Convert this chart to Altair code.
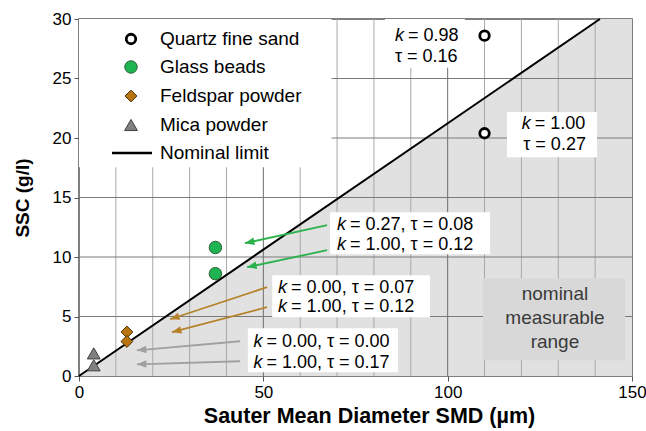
import math
import altair as alt
import pandas as pd

FONT = "Liberation Sans"
W, H = 553, 357
X_DOMAIN = [0, 150]
Y_DOMAIN = [0, 30]

# ---------------- data ----------------
series = ["Quartz fine sand", "Glass beads", "Feldspar powder", "Mica powder"]
quartz_smd = [110, 110]
quartz_ssc = [28.6, 20.4]
glass_smd = [37, 37]
glass_ssc = [10.8, 8.6]
feldspar_smd = [13, 13]
feldspar_ssc = [3.7, 2.9]
mica_smd = [4, 4]
mica_ssc = [1.9, 0.9]

limit_label = "Nominal limit"
limit_smd = [0, 141.3]
limit_ssc = [0, 30]

x_ticks = [0, 50, 100, 150]
y_ticks = [0, 5, 10, 15, 20, 25, 30]
x_grid_minor = [10, 20, 30, 40, 60, 70, 80, 90, 110, 120, 130, 140]
x_grid_major = [50, 100]
y_grid = [5, 10, 15, 20, 25]

# annotation boxes (data units): legend, k=0.98, k=1.00, glass, feldspar, mica
box_x1 = [0, 83.0, 116.1, 68.1, 52.4, 45.8]
box_x2 = [68.5, 104.7, 140.5, 111.5, 95.2, 86.5]
box_y1 = [17.55, 25.9, 18.39, 10.24, 4.94, 0.31]
box_y2 = [30, 30, 22.18, 13.77, 8.47, 4.01]

range_box_x = [109.6, 148.1]
range_box_y = [1.32, 8.22]
range_text = ["nominal", "measurable", "range"]
range_text_x = [129.1, 129.1, 129.1]
range_text_y = [6.87, 4.85, 2.83]

# text lines starting with italic k
k_x = [85.7, 120.1, 70.0, 70.0, 54.0, 54.0, 47.3, 47.3]
k_y = [28.57, 21.17, 12.67, 10.99, 7.43, 5.80, 2.86, 1.13]
k_rest = ["= 0.98", "= 1.00", "= 0.27, τ = 0.08", "= 1.00, τ = 0.12",
          "= 0.00, τ = 0.07", "= 1.00, τ = 0.12", "= 0.00, τ = 0.00", "= 1.00, τ = 0.17"]
tau_x = [85.7, 120.5]
tau_y = [26.83, 19.40]
tau_text = ["τ = 0.16", "τ = 0.27"]

# arrows
arrow_series = ["Glass beads", "Glass beads", "Feldspar powder", "Feldspar powder", "Mica powder", "Mica powder"]
arrow_x_from = [67.3, 67.3, 51.0, 51.0, 43.7, 43.7]
arrow_y_from = [12.67, 10.57, 7.46, 5.78, 2.92, 1.24]
arrow_x_to = [45.0, 45.6, 24.7, 25.2, 15.7, 15.7]
arrow_y_to = [11.16, 9.14, 4.77, 3.68, 2.16, 0.98]

# ---------------- styles ----------------
arrow_colors = {"Glass beads": "#2bb24c", "Feldspar powder": "#b5822a", "Mica powder": "#a0a0a0"}
SHADE = "#e1e1e1"
RANGE_BOX = "#d8d8d8"

xscale = alt.Scale(domain=X_DOMAIN, nice=False, zero=False)
yscale = alt.Scale(domain=Y_DOMAIN, nice=False, zero=False)
xaxis = alt.Axis(values=x_ticks, title="Sauter Mean Diameter SMD (µm)", grid=False, domain=False,
                 labelFont=FONT, labelFontSize=17, labelColor="#000", labelFlush=False,
                 labelOverlap=False, tickColor="#555", tickSize=5, labelPadding=3, format="d",
                 titleFont=FONT, titleFontSize=21.5, titleFontWeight="bold", titleColor="#000",
                 titlePadding=5, titleX=290, titleAlign="center", titleAnchor="start")
yaxis = alt.Axis(values=y_ticks, title="SSC (g/l)", grid=False, domain=False,
                 labelFont=FONT, labelFontSize=17, labelColor="#000", labelFlush=False,
                 labelOverlap=False, tickColor="#555", tickSize=5, labelPadding=3, format="d",
                 titleFont=FONT, titleFontSize=19, titleFontWeight="bold", titleColor="#000",
                 titlePadding=20)


def X(f="x"):
    return alt.X(f"{f}:Q", scale=xscale, axis=xaxis)


def Y(f="y"):
    return alt.Y(f"{f}:Q", scale=yscale, axis=yaxis)


# shaded region below the nominal limit
area_df = pd.DataFrame({"x": limit_smd + [X_DOMAIN[1]], "y": limit_ssc + [Y_DOMAIN[1]], "y2": [0, 0, 0]})
shade = alt.Chart(area_df).mark_area(color=SHADE, opacity=1).encode(x=X(), y=Y(), y2="y2:Q")

grid_minor = alt.Chart(pd.DataFrame({"x": x_grid_minor})).mark_rule(color="#a9a9a9", strokeWidth=1).encode(x=X())
grid_major = alt.Chart(pd.DataFrame({"x": x_grid_major})).mark_rule(color="#6e6e6e", strokeWidth=1).encode(x=X())
grid_y = alt.Chart(pd.DataFrame({"y": y_grid})).mark_rule(color="#7a7a7a", strokeWidth=1).encode(y=Y())

boxes_df = pd.DataFrame({"x": box_x1, "x2": box_x2, "y": box_y1, "y2": box_y2})
boxes = alt.Chart(boxes_df).mark_rect(color="white").encode(x=X(), x2="x2:Q", y=Y(), y2="y2:Q")

range_df = pd.DataFrame({"x": [range_box_x[0]], "x2": [range_box_x[1]], "y": [range_box_y[0]], "y2": [range_box_y[1]]})
range_box = alt.Chart(range_df).mark_rect(color=RANGE_BOX).encode(x=X(), x2="x2:Q", y=Y(), y2="y2:Q")
range_lbl = alt.Chart(pd.DataFrame({"x": range_text_x, "y": range_text_y, "t": range_text})).mark_text(
    font=FONT, fontSize=19, color="#3a3a3a", align="center", baseline="middle").encode(x=X(), y=Y(), text="t:N")

limit_df = pd.DataFrame({"x": limit_smd, "y": limit_ssc})
limit = alt.Chart(limit_df).mark_line(color="#000", strokeWidth=2).encode(x=X(), y=Y())

# arrows
sx = W / (X_DOMAIN[1] - X_DOMAIN[0])
sy = H / (Y_DOMAIN[1] - Y_DOMAIN[0])
angles = [math.degrees(math.atan2(-(y1 - y0) * sy, (x1 - x0) * sx)) % 360
          for x0, y0, x1, y1 in zip(arrow_x_from, arrow_y_from, arrow_x_to, arrow_y_to)]
arrow_df = pd.DataFrame({"x": arrow_x_from, "y": arrow_y_from, "x2": arrow_x_to, "y2": arrow_y_to,
                         "s": arrow_series, "angle": angles})
acolor = alt.Color("s:N", scale=alt.Scale(domain=list(arrow_colors.keys()), range=list(arrow_colors.values())),
                   legend=None)
arrow_lines = alt.Chart(arrow_df).mark_rule(strokeWidth=1.8).encode(x=X(), y=Y(), x2="x2:Q", y2="y2:Q", color=acolor)
arrow_heads = alt.Chart(arrow_df).mark_point(shape="M0,0L-2,-0.8L-2,0.8Z", filled=True, size=90, opacity=1).encode(
    x=X("x2"), y=Y("y2"), angle=alt.Angle("angle:Q", scale=None), color=acolor)

# marker styles
QUARTZ = dict(shape="circle", size=90, filled=False, stroke="#000", strokeWidth=2.8, fill="white", opacity=1)
GLASS = dict(shape="circle", size=155, filled=True, fill="#1fb452", stroke="#2d5e38", strokeWidth=1, opacity=1)
FELD = dict(shape="diamond", size=140, filled=True, fill="#b8740f", stroke="#4d3206", strokeWidth=1, opacity=1)
MICA = dict(shape="triangle-up", size=165, filled=True, fill="#808080", stroke="#404040", strokeWidth=1, opacity=1)

pts = [
    alt.Chart(pd.DataFrame({"x": quartz_smd, "y": quartz_ssc})).mark_point(**QUARTZ).encode(x=X(), y=Y()),
    alt.Chart(pd.DataFrame({"x": glass_smd, "y": glass_ssc})).mark_point(**GLASS).encode(x=X(), y=Y()),
    alt.Chart(pd.DataFrame({"x": feldspar_smd, "y": feldspar_ssc})).mark_point(**FELD).encode(x=X(), y=Y()),
    alt.Chart(pd.DataFrame({"x": mica_smd, "y": mica_ssc})).mark_point(**MICA).encode(x=X(), y=Y()),
]

# annotation text
k_df = pd.DataFrame({"x": k_x, "y": k_y, "rest": k_rest})
k_it = alt.Chart(k_df).mark_text(font=FONT, fontSize=18, fontStyle="italic", align="left", baseline="middle",
                                 color="#000").encode(x=X(), y=Y(), text=alt.value("k"))
k_rest_t = alt.Chart(k_df).mark_text(font=FONT, fontSize=18, align="left", baseline="middle", dx=13,
                                     color="#000").encode(x=X(), y=Y(), text="rest:N")
tau_t = alt.Chart(pd.DataFrame({"x": tau_x, "y": tau_y, "t": tau_text})).mark_text(
    font=FONT, fontSize=18, align="left", baseline="middle", color="#000").encode(x=X(), y=Y(), text="t:N")

# legend (manual, placed in pixels relative to the plot area)
leg_sym_x = 52
leg_text_x = 81
leg_rows = [20, 48, 77, 106, 134]
legend = [
    alt.Chart().mark_point(**QUARTZ).encode(x=alt.value(leg_sym_x), y=alt.value(leg_rows[0])),
    alt.Chart().mark_point(**GLASS).encode(x=alt.value(leg_sym_x), y=alt.value(leg_rows[1])),
    alt.Chart().mark_point(**FELD).encode(x=alt.value(leg_sym_x), y=alt.value(leg_rows[2])),
    alt.Chart().mark_point(**MICA).encode(x=alt.value(leg_sym_x), y=alt.value(leg_rows[3])),
    alt.Chart().mark_rule(color="#000", strokeWidth=2.5).encode(
        x=alt.value(33), x2=alt.value(73), y=alt.value(leg_rows[4])),
]
for lbl, ry in zip(series + [limit_label], leg_rows):
    legend.append(alt.Chart().mark_text(font=FONT, fontSize=19, align="left", baseline="middle", color="#000").encode(
        x=alt.value(leg_text_x), y=alt.value(ry), text=alt.value(lbl)))

chart = alt.layer(
    shade, grid_minor, grid_major, grid_y, range_box, boxes, range_lbl, limit,
    arrow_lines, arrow_heads, *pts, k_it, k_rest_t, tau_t, *legend
).properties(
    width=W, height=H, autosize="none",
    padding={"left": 79, "top": 19, "right": 14, "bottom": 55},
    background="white",
).configure_view(stroke="#555", strokeWidth=1.5)

chart.save("out.html", embed_options={"renderer": "svg", "actions": False})
